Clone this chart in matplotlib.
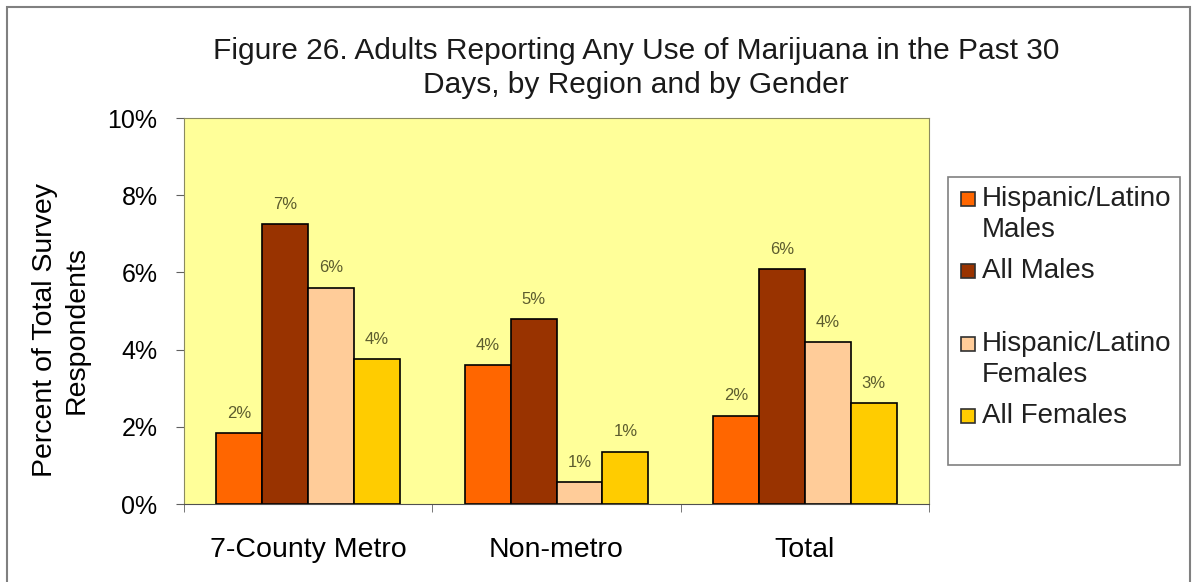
import numpy as np
import matplotlib
matplotlib.use('Agg')
from matplotlib import pyplot as plt
from matplotlib.patches import Rectangle

plt.rcParams['font.family'] = ['Liberation Sans', 'DejaVu Sans']

regions = ['7-County Metro', 'Non-metro', 'Total']
series_names = ['Hispanic/Latino\nMales', 'All Males', 'Hispanic/Latino\nFemales', 'All Females']
hl_males = [1.84, 3.59, 2.29]
all_males = [7.25, 4.78, 6.08]
hl_females = [5.60, 0.56, 4.19]
all_females = [3.76, 1.36, 2.61]
colors = ['#FF6600', '#993300', '#FFCC99', '#FFCC00']

values = [hl_males, all_males, hl_females, all_females]

W, H = 1195, 582
fig = plt.figure(figsize=(W / 100, H / 100), dpi=100)
# outer chart border (bottom runs off the image like the original)
fig.patches.append(Rectangle((7 / W, -0.02), 1183 / W, 1 - 7 / H + 0.02,
                             transform=fig.transFigure, fill=False,
                             edgecolor='#808080', linewidth=1.5))

ax = fig.add_axes([184 / W, (H - 504) / H, (929 - 184) / W, (504 - 118) / H])
ax.set_facecolor('#FFFF99')

x = np.arange(len(regions))
w = 0.185
for i, (vals, c) in enumerate(zip(values, colors)):
    pos = x + (i - 1.5) * w
    ax.bar(pos, vals, width=w, color=c, edgecolor='black', linewidth=1.2)
    for xb, v in zip(pos, vals):
        ax.text(xb, v + 0.32, '%d%%' % round(v), ha='center', va='bottom',
                fontsize=12, color='#5c5c2e')

ax.set_xlim(-0.5, 2.5)
ax.set_ylim(0, 10)
ax.set_yticks(np.arange(0, 11, 2))
ax.set_yticklabels(['%d%%' % t for t in range(0, 11, 2)], fontsize=18)
ax.set_xticks(x)
ax.set_xticklabels(regions, fontsize=20.5)
ax.set_xticks([-0.5, 0.5, 1.5, 2.5], minor=True)
ax.tick_params(axis='x', which='major', length=0, pad=24)
ax.tick_params(axis='x', which='minor', length=6, direction='out', color='#606060')
ax.tick_params(axis='y', length=6, pad=13, color='#606060')
for s in ax.spines.values():
    s.set_color('#8a8a60')
ax.spines['bottom'].set_color('#505050')

fig.text(61 / W, 1 - 330 / H, 'Percent of Total Survey\nRespondents', rotation=90,
         ha='center', va='center', fontsize=20.5, linespacing=1.25)

fig.text(636 / W, 1 - 68 / H, 'Figure 26. Adults Reporting Any Use of Marijuana in the Past 30\nDays, by Region and by Gender',
         ha='center', va='center', fontsize=21.5, linespacing=1.27, color='#1a1a1a')

# legend box drawn by hand so the uneven spacing of the original is kept
fig.patches.append(Rectangle((948 / W, 1 - 465 / H), (1180 - 948) / W, (465 - 177) / H,
                             transform=fig.transFigure, facecolor='white',
                             edgecolor='#808080', linewidth=1.2))
entry_y = [199, 271, 344, 416]
for name, c, ey in zip(series_names, colors, entry_y):
    fig.patches.append(Rectangle((961 / W, 1 - (ey + 7) / H), 14 / W, 14 / H,
                                 transform=fig.transFigure, facecolor=c,
                                 edgecolor='#303030', linewidth=1.2))
    for k, line in enumerate(name.split('\n')):
        fig.text(982 / W, 1 - (ey + 31 * k) / H, line, ha='left', va='center',
                 fontsize=20, color='#202020')

fig.savefig('out.png', dpi=100)
